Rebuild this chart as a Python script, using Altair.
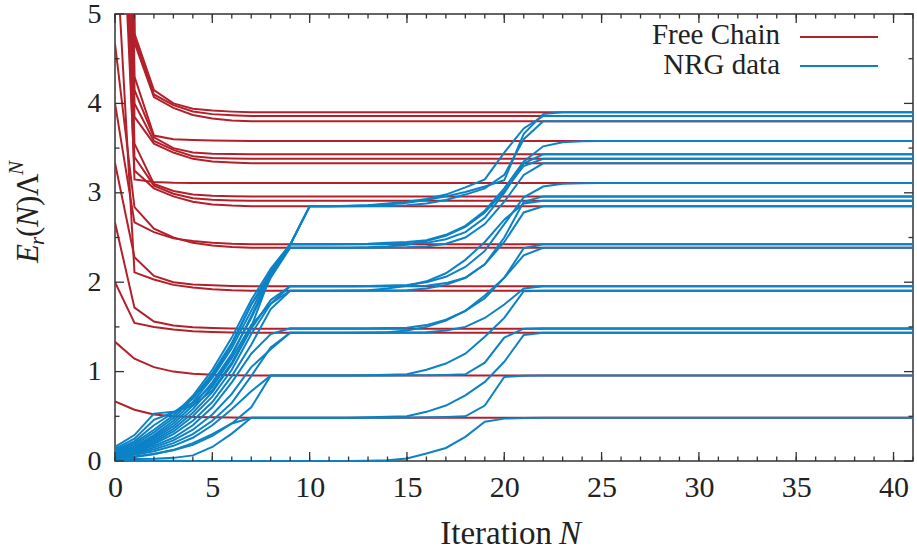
import altair as alt
import pandas as pd

# ---------------------------------------------------------------
# Free Wilson chain levels E_r(N) Lambda^N, values at N = 0..7,
# after which each level stays at its fixed-point value up to N = 41.
# ---------------------------------------------------------------
free_levels = [
    [0.667, 0.574, 0.520, 0.500, 0.492, 0.488, 0.486, 0.484],
    [1.333, 1.145, 1.050, 1.000, 0.977, 0.966, 0.960, 0.955],
    [2.000, 1.545, 1.500, 1.470, 1.452, 1.443, 1.438, 1.435],
    [2.667, 1.715, 1.560, 1.515, 1.497, 1.488, 1.483, 1.480],
    [6.000, 2.110, 2.030, 1.970, 1.940, 1.920, 1.910, 1.905],
    [3.333, 2.280, 2.070, 2.000, 1.975, 1.965, 1.958, 1.955],
    [4.667, 2.840, 2.600, 2.500, 2.440, 2.410, 2.395, 2.385],
    [4.000, 2.670, 2.560, 2.490, 2.460, 2.440, 2.430, 2.425],
    [8.000, 3.250, 3.050, 2.960, 2.900, 2.870, 2.857, 2.850],
    [10.00, 3.400, 3.080, 2.990, 2.940, 2.922, 2.914, 2.910],
    [12.00, 3.550, 3.100, 3.020, 2.980, 2.968, 2.962, 2.960],
    [9.000, 3.150, 3.120, 3.112, 3.110, 3.110, 3.110, 3.110],
    [14.00, 3.850, 3.550, 3.450, 3.380, 3.350, 3.338, 3.330],
    [16.00, 4.000, 3.580, 3.480, 3.410, 3.390, 3.384, 3.380],
    [18.00, 4.150, 3.620, 3.500, 3.450, 3.438, 3.433, 3.430],
    [20.00, 4.300, 3.640, 3.600, 3.590, 3.584, 3.581, 3.580],
    [24.00, 4.680, 4.070, 3.950, 3.870, 3.830, 3.810, 3.800],
    [28.00, 4.730, 4.100, 3.980, 3.910, 3.880, 3.868, 3.860],
    [32.00, 4.780, 4.150, 4.000, 3.940, 3.920, 3.908, 3.900],
]

# ---------------------------------------------------------------
# NRG flow, values at N = 0..25, constant afterwards up to N = 41.
# ---------------------------------------------------------------
nrg_levels = [
    [0.010, 0.006, 0.004, 0.002, 0.001, 0.000, 0.000, 0.000, 0.000, 0.000, 0.000, 0.000, 0.000,
     0.002, 0.008, 0.027, 0.083, 0.146, 0.270, 0.440, 0.474, 0.482, 0.484, 0.484, 0.484, 0.484],
    [0.020, 0.022, 0.026, 0.035, 0.063, 0.157, 0.306, 0.484, 0.484, 0.484, 0.484, 0.484, 0.484,
     0.484, 0.485, 0.486, 0.488, 0.492, 0.500, 0.620, 0.940, 0.953, 0.955, 0.955, 0.955, 0.955],
    [0.030, 0.045, 0.075, 0.125, 0.200, 0.300, 0.420, 0.484, 0.484, 0.484, 0.484, 0.484, 0.485,
     0.488, 0.495, 0.500, 0.550, 0.620, 0.735, 0.885, 1.110, 1.410, 1.435, 1.435, 1.435, 1.435],
    [0.035, 0.050, 0.080, 0.120, 0.180, 0.280, 0.420, 0.600, 0.955, 0.955, 0.955, 0.955, 0.955,
     0.955, 0.956, 0.958, 0.960, 0.963, 0.970, 1.100, 1.380, 1.480, 1.484, 1.484, 1.484, 1.484],
    [0.045, 0.070, 0.110, 0.170, 0.260, 0.400, 0.580, 0.780, 0.955, 0.955, 0.955, 0.955, 0.956,
     0.960, 0.965, 0.970, 1.020, 1.090, 1.200, 1.390, 1.600, 1.900, 1.905, 1.905, 1.905, 1.905],
    [0.050, 0.080, 0.130, 0.200, 0.300, 0.450, 0.650, 0.950, 1.270, 1.435, 1.435, 1.435, 1.435,
     1.435, 1.436, 1.438, 1.440, 1.460, 1.500, 1.600, 1.750, 1.930, 1.955, 1.955, 1.955, 1.955],
    [0.055, 0.090, 0.150, 0.230, 0.350, 0.520, 0.750, 1.050, 1.250, 1.435, 1.435, 1.435, 1.435,
     1.437, 1.440, 1.460, 1.500, 1.570, 1.680, 1.850, 2.050, 2.300, 2.385, 2.385, 2.385, 2.385],
    [0.060, 0.100, 0.170, 0.260, 0.400, 0.600, 0.880, 1.200, 1.420, 1.484, 1.484, 1.484, 1.484,
     1.485, 1.487, 1.490, 1.520, 1.580, 1.680, 1.820, 2.050, 2.380, 2.425, 2.425, 2.425, 2.425],
    [0.065, 0.110, 0.190, 0.300, 0.450, 0.660, 0.950, 1.300, 1.700, 1.905, 1.905, 1.905, 1.905,
     1.906, 1.908, 1.910, 1.930, 1.970, 2.050, 2.200, 2.450, 2.780, 2.850, 2.850, 2.850, 2.850],
    [0.070, 0.120, 0.210, 0.330, 0.500, 0.720, 1.020, 1.420, 1.760, 1.905, 1.905, 1.905, 1.906,
     1.910, 1.930, 1.960, 2.010, 2.100, 2.250, 2.450, 2.700, 2.880, 2.910, 2.910, 2.910, 2.910],
    [0.075, 0.130, 0.230, 0.360, 0.540, 0.770, 1.080, 1.480, 1.800, 1.955, 1.955, 1.955, 1.955,
     1.955, 1.956, 1.958, 1.960, 1.990, 2.050, 2.200, 2.500, 2.900, 2.960, 2.960, 2.960, 2.960],
    [0.080, 0.140, 0.250, 0.390, 0.580, 0.830, 1.150, 1.520, 1.760, 1.955, 1.955, 1.955, 1.955,
     1.957, 1.962, 1.970, 2.000, 2.060, 2.170, 2.350, 2.650, 2.950, 3.070, 3.100, 3.108, 3.110],
    [0.085, 0.150, 0.270, 0.420, 0.620, 0.880, 1.200, 1.600, 2.050, 2.385, 2.385, 2.385, 2.385,
     2.386, 2.388, 2.390, 2.400, 2.430, 2.500, 2.650, 2.900, 3.200, 3.330, 3.330, 3.330, 3.330],
    [0.090, 0.160, 0.290, 0.450, 0.660, 0.930, 1.260, 1.680, 2.100, 2.385, 2.385, 2.385, 2.386,
     2.390, 2.400, 2.420, 2.460, 2.520, 2.620, 2.780, 3.020, 3.300, 3.380, 3.380, 3.380, 3.380],
    [0.100, 0.180, 0.320, 0.480, 0.700, 0.980, 1.320, 1.750, 2.120, 2.425, 2.425, 2.425, 2.425,
     2.426, 2.428, 2.432, 2.440, 2.480, 2.560, 2.720, 3.000, 3.330, 3.430, 3.430, 3.430, 3.430],
    [0.110, 0.200, 0.350, 0.510, 0.730, 1.020, 1.380, 1.800, 2.150, 2.425, 2.425, 2.425, 2.426,
     2.430, 2.440, 2.450, 2.470, 2.530, 2.630, 2.800, 3.050, 3.350, 3.520, 3.565, 3.576, 3.580],
    [0.120, 0.220, 0.400, 0.540, 0.700, 0.950, 1.300, 1.750, 2.080, 2.420, 2.850, 2.850, 2.850,
     2.851, 2.853, 2.860, 2.880, 2.920, 2.980, 3.050, 3.200, 3.600, 3.800, 3.800, 3.800, 3.800],
    [0.135, 0.250, 0.460, 0.545, 0.650, 0.850, 1.180, 1.620, 2.080, 2.420, 2.850, 2.850, 2.851,
     2.860, 2.880, 2.900, 2.930, 2.980, 3.060, 3.150, 3.450, 3.720, 3.860, 3.860, 3.860, 3.860],
    [0.157, 0.290, 0.530, 0.550, 0.620, 0.790, 1.100, 1.500, 2.080, 2.420, 2.850, 2.850, 2.855,
     2.860, 2.870, 2.890, 2.920, 2.960, 3.010, 3.070, 3.140, 3.660, 3.880, 3.900, 3.900, 3.900],
]

N_LAST = 41
x_major = [0, 5, 10, 15, 20, 25, 30, 35, 40]
x_minor = list(range(0, 42))
y_major = [0, 1, 2, 3, 4, 5]
y_minor = [0.5, 1.5, 2.5, 3.5, 4.5]

RED = "#b3202a"
BLUE = "#0b82c6"
FONT = "Liberation Serif"
TEXT = "#222"
W, H = 798, 447


def to_long(levels, prefix):
    rows = []
    for i, vals in enumerate(levels):
        for n, v in enumerate(vals):
            rows.append({"line": f"{prefix}{i}", "N": n, "E": v})
        rows.append({"line": f"{prefix}{i}", "N": N_LAST, "E": vals[-1]})
    return pd.DataFrame(rows)


free_df = to_long(free_levels, "free")
nrg_df = to_long(nrg_levels, "nrg")

xscale = alt.Scale(domain=[0, 41], nice=False, zero=False)
yscale = alt.Scale(domain=[0, 5], nice=False, zero=False)

# the same axis definitions are given to every layer that uses a scale
x_axis = alt.Axis(values=x_major, ticks=False, domain=False, grid=False, title=None,
                  labelFont=FONT, labelFontSize=30, labelColor=TEXT,
                  labelPadding=11, labelFlush=False, labelOverlap=False)
y_axis = alt.Axis(values=y_major, ticks=False, domain=False, grid=False, title=None,
                  labelFont=FONT, labelFontSize=28, labelColor=TEXT,
                  labelPadding=14, labelFlush=False, labelOverlap=False, format="d")

X = alt.X("N:Q", scale=xscale, axis=x_axis)
Y = alt.Y("E:Q", scale=yscale, axis=y_axis)

free_lines = alt.Chart(free_df).mark_line(color=RED, strokeWidth=2, clip=True).encode(
    x=X, y=Y, detail="line:N", order="N:Q",
)

nrg_lines = alt.Chart(nrg_df).mark_line(color=BLUE, strokeWidth=2, clip=True).encode(
    x=X, y=Y, detail="line:N", order="N:Q",
)

# inward-pointing ticks on all four sides
tick_color = "#333"
xmaj = pd.DataFrame({"N": x_major})
xmin = pd.DataFrame({"N": x_minor})
ymaj = pd.DataFrame({"E": y_major})
ymin = pd.DataFrame({"E": y_minor})


def xticks(df, length):
    bottom = alt.Chart(df).mark_rule(color=tick_color, strokeWidth=1.3).encode(
        x=X, y=alt.value(H), y2=alt.value(H - length))
    top = alt.Chart(df).mark_rule(color=tick_color, strokeWidth=1.3).encode(
        x=X, y=alt.value(0), y2=alt.value(length))
    return [bottom, top]


def yticks(df, length):
    left = alt.Chart(df).mark_rule(color=tick_color, strokeWidth=1.3).encode(
        y=Y, x=alt.value(0), x2=alt.value(length))
    right = alt.Chart(df).mark_rule(color=tick_color, strokeWidth=1.3).encode(
        y=Y, x=alt.value(W), x2=alt.value(W - length))
    return [left, right]


ticks = xticks(xmin, 4.5) + xticks(xmaj, 9) + yticks(ymin, 4.5) + yticks(ymaj, 9)

one = pd.DataFrame({"k": [0]})


def label(text, x, y, size=30, style="normal", align="left", angle=0):
    return alt.Chart(one).mark_text(
        text=text, font=FONT, fontSize=size, fontStyle=style, align=align,
        baseline="alphabetic", angle=angle, color=TEXT,
    ).encode(x=alt.value(x), y=alt.value(y))


# key in the upper right corner
legend = [
    label("Free Chain", 665, 30, size=29, align="right"),
    label("NRG data", 665, 60, size=29, align="right"),
    alt.Chart(one).mark_rule(color=RED, strokeWidth=2).encode(
        x=alt.value(685), x2=alt.value(763), y=alt.value(23)),
    alt.Chart(one).mark_rule(color=BLUE, strokeWidth=2).encode(
        x=alt.value(685), x2=alt.value(763), y=alt.value(52)),
]

# axis titles built from pieces so that symbols can be italic
titles = [
    label("Iteration", 437, 530, size=33, align="right"),
    label("N", 444, 530, size=33, style="italic"),
    label("E", -77, 249, size=31, style="italic", angle=270),
    label("r", -71, 231, size=21, style="italic", angle=270),
    label("(", -77, 223, size=31, angle=270),
    label("N", -77, 213, size=31, style="italic", angle=270),
    label(")", -77, 192, size=31, angle=270),
    label("Λ", -77, 182, size=31, angle=270),
    label("N", -92, 161, size=21, style="italic", angle=270),
]

chart = alt.layer(free_lines, nrg_lines, *ticks, *legend, *titles).properties(
    width=W, height=H,
    autosize=alt.AutoSizeParams(type="none"),
    padding={"left": 115, "top": 14, "right": 4, "bottom": 93},
    background="white",
).configure_view(stroke="#333", strokeWidth=1.5)

chart.save("out.html", embed_options={"renderer": "svg", "actions": False})
